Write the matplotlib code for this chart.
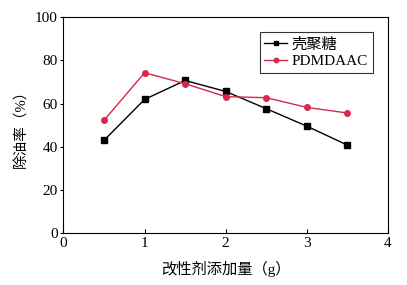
import matplotlib
matplotlib.use('agg')
import matplotlib.pyplot as plt

plt.rcParams['font.family'] = ['Liberation Serif', 'Noto Sans CJK SC']

dose = [0.5, 1.0, 1.5, 2.0, 2.5, 3.0, 3.5]
chitosan = [42.9, 61.9, 70.7, 65.6, 57.6, 49.5, 40.7]
pdmdaac = [52.2, 74.3, 69.2, 63.2, 62.7, 58.2, 55.6]

fig = plt.figure(figsize=(4.07, 2.85), dpi=100)
ax = fig.add_axes([0.156, 0.1835, 0.797, 0.7555])

ax.plot(dose, chitosan, color='black', marker='s', markersize=4, linewidth=1, label='壳聚糖')
ax.plot(dose, pdmdaac, color='#d42a4c', marker='o', markersize=4, linewidth=1, label='PDMDAAC')

ax.set_xlim(0, 4)
ax.set_ylim(0, 100)
ax.set_xticks([0, 1, 2, 3, 4])
ax.set_yticks([0, 20, 40, 60, 80, 100])
ax.tick_params(axis='x', direction='in', length=3, labelsize=11, pad=3)
ax.tick_params(axis='y', direction='out', length=2, labelsize=11, pad=2)

ax.set_xlabel('改性剂添加量（g）', fontsize=11, labelpad=8)
ax.set_ylabel('除油率（%）', fontsize=10.5, labelpad=5)

leg = ax.legend(loc='upper right', bbox_to_anchor=(0.953, 0.93), fontsize=11,
                frameon=True, fancybox=False, edgecolor='black', handlelength=1.5,
                handletextpad=0.3, borderpad=0.3, labelspacing=0.2, borderaxespad=0,
                markerscale=0.8)
leg.get_frame().set_linewidth(0.8)

plt.savefig('out.png', dpi=100)
